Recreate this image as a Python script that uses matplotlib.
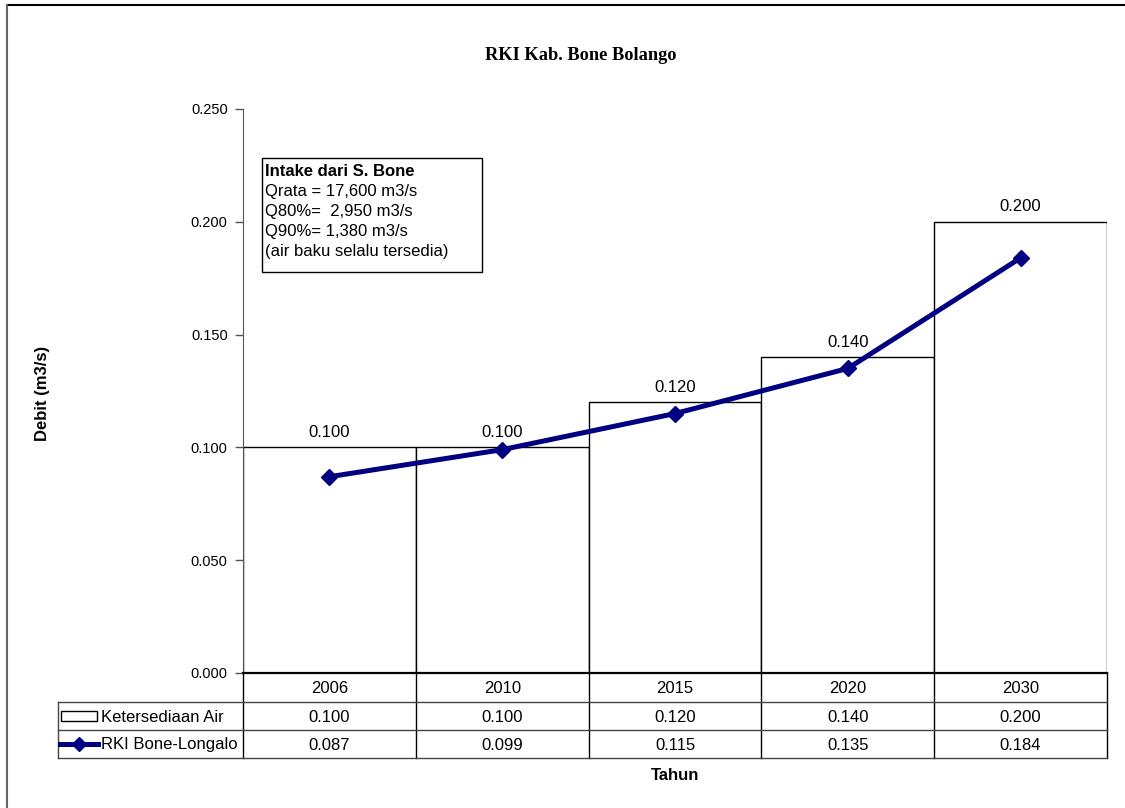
import matplotlib
matplotlib.use("Agg")
import matplotlib.pyplot as plt
from matplotlib.lines import Line2D
from matplotlib.patches import Rectangle
import matplotlib.transforms as mtransforms

plt.rcParams['font.family'] = ['Liberation Sans', 'DejaVu Sans']

years = ['2006', '2010', '2015', '2020', '2030']
ketersediaan = [0.100, 0.100, 0.120, 0.140, 0.200]
rki = [0.087, 0.099, 0.115, 0.135, 0.184]
series_names = ['Ketersediaan Air', 'RKI Bone-Longalo']
yticks = [0.000, 0.050, 0.100, 0.150, 0.200, 0.250]
info_lines = ['Intake dari S. Bone', 'Qrata = 17,600 m3/s', 'Q80%=  2,950 m3/s',
              'Q90%= 1,380 m3/s', '(air baku selalu tersedia)']

W, H = 1125, 808
fig = plt.figure(figsize=(W / 100, H / 100), dpi=100)


def fx(px):
    return px / W


def fy(py):
    return (H - py) / H


NAVY = '#000080'
FS = 12
TICK_FS = 10.5

ax = fig.add_axes([fx(243), fy(673), fx(1107) - fx(243), fy(109) - fy(673)])
x = list(range(len(years)))
ax.bar(x, ketersediaan, width=1.0, facecolor='white', edgecolor='black', linewidth=1.0, zorder=2)
ax.plot(x, rki, color=NAVY, linewidth=3.6, marker='D', markersize=8.5, zorder=3)
for xi, v in zip(x, ketersediaan):
    ax.annotate(f'{v:.3f}', (xi, v), xytext=(0, 5.5), textcoords='offset points',
                ha='center', va='bottom', fontsize=FS)

ax.set_xlim(-0.5, len(years) - 0.5)
ax.set_ylim(0, 0.25)
ax.set_yticks(yticks)
ax.set_yticklabels([f'{t:.3f}' for t in yticks], fontsize=TICK_FS)
ax.tick_params(axis='y', direction='out', length=6, width=1.0, color='#555555', pad=5)
ax.set_xticks([])
for s in ['top', 'right']:
    ax.spines[s].set_visible(False)
ax.spines['left'].set_color('#555555')
ax.spines['bottom'].set_linewidth(1.6)
ax.patch.set_visible(False)

# Data table under the plot
blend = mtransforms.blended_transform_factory(ax.transData, fig.transFigure)
row_y = [673, 702, 730, 758]
edges = [i - 0.5 for i in range(len(years) + 1)]
for e in edges:
    ax.add_line(Line2D([e, e], [fy(673), fy(758)], transform=blend, color='black',
                       linewidth=1.0, clip_on=False))
for ry in row_y[1:]:
    fig.add_artist(Line2D([fx(58), fx(1107)], [fy(ry), fy(ry)], color='#444444', linewidth=1.0))
fig.add_artist(Line2D([fx(58), fx(58)], [fy(702), fy(758)], color='#444444', linewidth=1.0))

for xi, yr in zip(x, years):
    ax.text(xi, fy(688.5), yr, transform=blend, ha='center', va='center', fontsize=FS)
for xi, v in zip(x, ketersediaan):
    ax.text(xi, fy(717), f'{v:.3f}', transform=blend, ha='center', va='center', fontsize=FS)
for xi, v in zip(x, rki):
    ax.text(xi, fy(745), f'{v:.3f}', transform=blend, ha='center', va='center', fontsize=FS)

# Legend keys inside the table
fig.add_artist(Rectangle((fx(61), fy(721)), fx(97) - fx(61), fy(711) - fy(721),
                         facecolor='white', edgecolor='black', linewidth=1.0))
fig.add_artist(Line2D([fx(60), fx(98)], [fy(744), fy(744)], color=NAVY, linewidth=3.6))
fig.add_artist(Line2D([fx(79)], [fy(744)], color=NAVY, marker='D', markersize=7.5))
fig.text(fx(101), fy(717), series_names[0], ha='left', va='center', fontsize=FS)
fig.text(fx(101), fy(745), series_names[1], ha='left', va='center', fontsize=FS)

# Info box
fig.add_artist(Rectangle((fx(262), fy(272)), fx(482) - fx(262), fy(158) - fy(272),
                         facecolor='white', edgecolor='black', linewidth=1.0, zorder=4))
for i, line in enumerate(info_lines):
    fig.text(fx(265), fy(171.5 + 20 * i), line, ha='left', va='center', fontsize=FS,
             fontweight='bold' if i == 0 else 'normal', zorder=5)

fig.text(fx(581), fy(55), 'RKI Kab. Bone Bolango', ha='center', va='center',
         fontsize=13.2, fontweight='bold', family=['Liberation Serif', 'DejaVu Serif'])
fig.text(fx(42), fy(393), 'Debit (m3/s)', ha='center', va='center', rotation=90,
         fontsize=FS, fontweight='bold')
fig.text(fx(675), fy(775), 'Tahun', ha='center', va='center', fontsize=FS, fontweight='bold')

# Frame lines
fig.add_artist(Line2D([fx(7), fx(1125)], [fy(5), fy(5)], color='black', linewidth=1.5))
fig.add_artist(Line2D([fx(7), fx(7)], [fy(5), fy(808)], color='#666666', linewidth=1.5))

fig.savefig('out.png', dpi=100, facecolor='white')
